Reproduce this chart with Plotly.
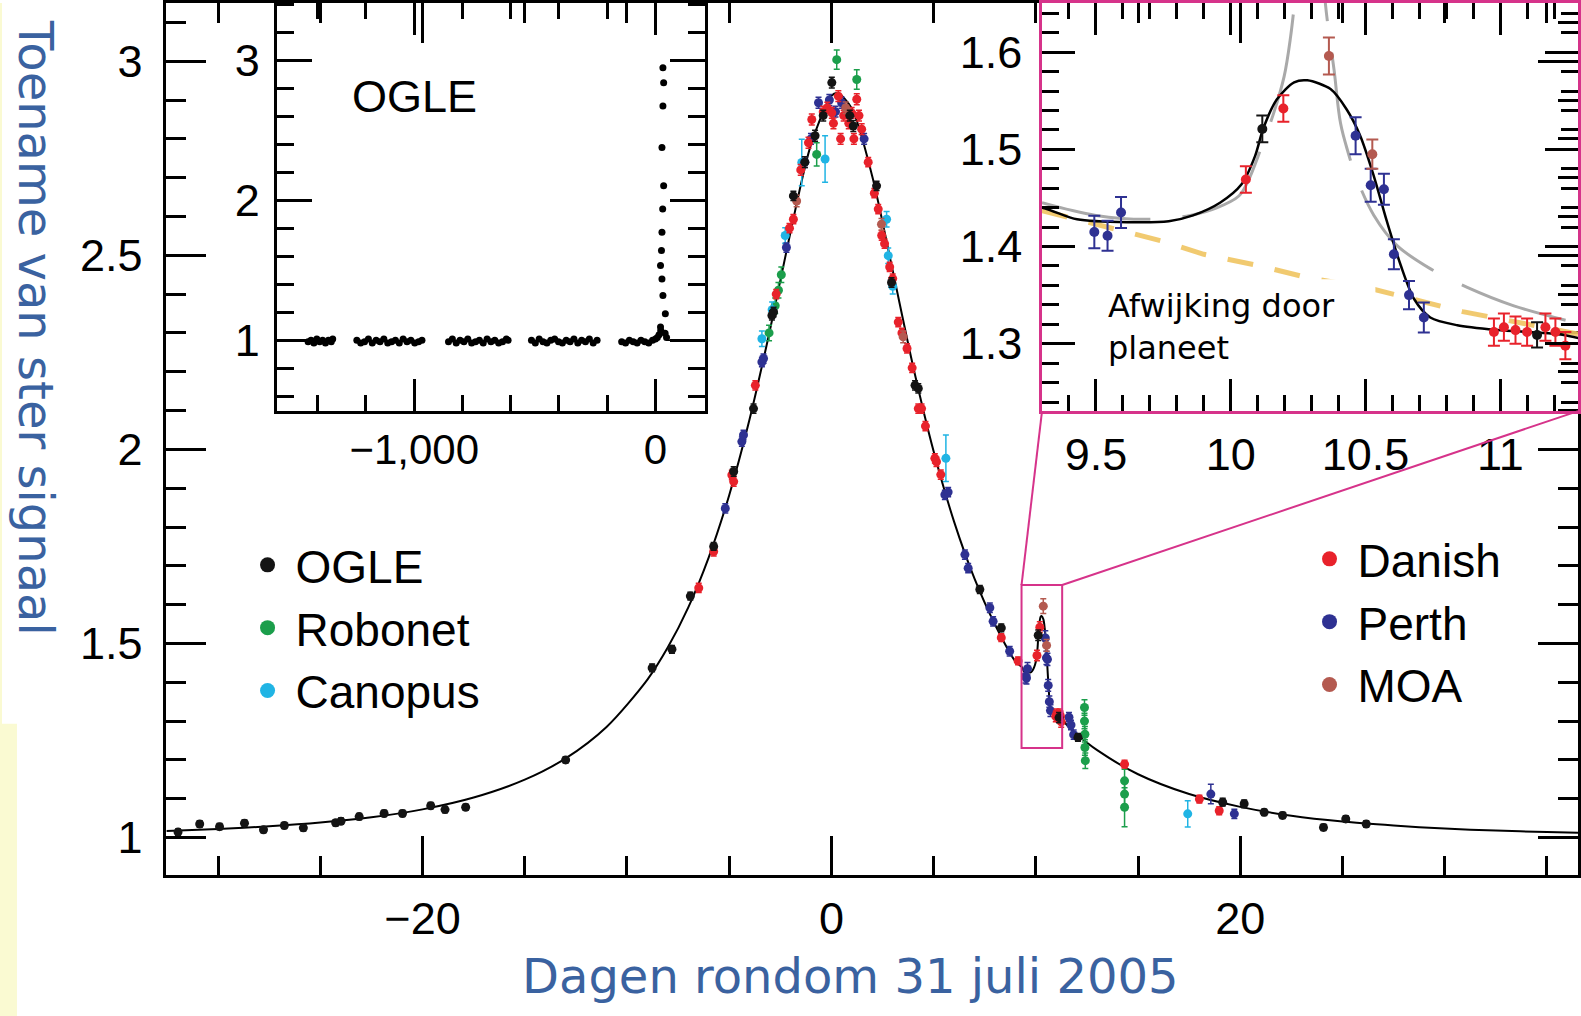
import plotly.graph_objects as go

W, H = 1581, 1016

# ---------------- fitted light curve (days, magnification) ----------------
MODEL_T = [-32.53, -30.0, -27.5, -25.0, -22.5, -20.0, -17.5, -15.0, -13.0, -11.0,
           -9.0, -8.0, -7.0, -6.0, -5.0, -4.0, -3.0, -2.0, -1.0, 0.0, 0.3, 1.0,
           2.0, 3.0, 4.0, 5.0, 6.0, 7.0, 8.0, 9.0, 9.3, 9.43, 9.62, 9.77, 9.86,
           9.96, 10.04, 10.09, 10.12, 10.17, 10.235, 10.284, 10.37, 10.43, 10.48,
           10.53, 10.58, 10.63, 10.68, 10.74, 10.84, 10.99, 11.235, 11.5, 12.0,
           13.0, 15.0, 17.5, 20.0, 22.5, 25.0, 27.5, 30.0, 32.5, 35.0, 36.52]
MODEL_A = [1.017, 1.022, 1.029, 1.0385, 1.052, 1.0725, 1.103, 1.149, 1.204, 1.285,
           1.407, 1.490, 1.593, 1.722, 1.882, 2.078, 2.309, 2.560, 2.785, 2.911, 2.918, 2.878,
           2.703, 2.460, 2.213, 1.995, 1.814, 1.667, 1.549, 1.454, 1.440, 1.428, 1.425, 1.426, 1.432,
           1.445, 1.464, 1.493, 1.521, 1.551, 1.569, 1.571, 1.562, 1.541, 1.514,
           1.473, 1.425, 1.381, 1.346, 1.327, 1.319, 1.314, 1.309, 1.291, 1.266,
           1.225, 1.163, 1.112, 1.079, 1.056, 1.041, 1.031, 1.023, 1.018, 1.014, 1.012]

# ---------------- photometry per telescope ----------------
OGLE_T = [-31.96, -30.90, -29.93, -28.71, -27.78, -26.76, -25.83, -24.25, -23.99, -23.10,
          -21.88, -20.98, -19.60, -18.90, -17.89, -13.00, -8.77, -7.80, -6.90, -5.76,
          -4.78, -3.81, -2.91, -2.83, -1.86, -1.30, -0.80, -0.40, 0.02, 0.90,
          1.07, 2.21, 2.94, 4.09, 4.25, 7.26, 8.31, 10.117, 11.136, 12.06,
          19.14, 20.19, 21.17, 22.07, 24.07, 25.16, 26.16]
OGLE_A = [1.014, 1.035, 1.028, 1.037, 1.020, 1.031, 1.025, 1.038, 1.042, 1.054,
          1.062, 1.062, 1.082, 1.072, 1.078, 1.200, 1.437, 1.485, 1.622, 1.750,
          1.943, 2.105, 2.345, 2.354, 2.653, 2.740, 2.808, 2.860, 2.945, 2.860,
          2.833, 2.679, 2.430, 2.165, 2.157, 1.639, 1.540, 1.521, 1.309, 1.258,
          1.091, 1.087, 1.065, 1.057, 1.026, 1.048, 1.035]
OGLE_E = [0.008, 0.008, 0.008, 0.008, 0.008, 0.008, 0.008, 0.008, 0.008, 0.008,
          0.008, 0.008, 0.008, 0.008, 0.008, 0.008, 0.010, 0.010, 0.010, 0.010,
          0.012, 0.012, 0.012, 0.012, 0.012, 0.014, 0.014, 0.014, 0.014, 0.014,
          0.014, 0.012, 0.012, 0.012, 0.012, 0.010, 0.010, 0.0137, 0.013, 0.010,
          0.010, 0.010, 0.008, 0.008, 0.008, 0.008, 0.008]

ROBO_T = [-3.05, -2.75, -2.59, -2.45, -0.72, 0.26, 1.24,
          12.38, 12.38, 12.40, 12.40, 12.42, 14.34, 14.34, 14.34]
ROBO_A = [2.300, 2.370, 2.410, 2.450, 2.760, 3.004, 2.953,
          1.335, 1.300, 1.266, 1.232, 1.198, 1.146, 1.112, 1.078]
ROBO_E = [0.020, 0.020, 0.020, 0.020, 0.030, 0.025, 0.025,
          0.020, 0.020, 0.020, 0.020, 0.020, 0.030, 0.030, 0.050]

CANO_T = [-3.40, -2.90, -2.26, -1.45, -0.31, 2.70, 2.78, 3.00, 5.60, 17.43]
CANO_A = [2.285, 2.360, 2.551, 2.739, 2.748, 2.593, 2.499, 2.420, 1.977, 1.061]
CANO_E = [0.020, 0.020, 0.020, 0.060, 0.060, 0.020, 0.020, 0.020, 0.060, 0.034]

DAN_T = [-6.49, -5.76, -4.87, -4.78, -3.72, -2.70, -2.05, -1.86, -1.50, -1.12,
         -0.96, -0.40, -0.20, 0.02, 0.10, 0.34, 0.45, 0.60, 0.85, 0.99,
         1.10, 1.24, 1.35, 1.48, 1.80, 2.10, 2.29, 2.46, 2.60, 2.85,
         3.00, 3.27, 3.45, 3.70, 3.95, 4.25, 4.41, 4.60, 5.06, 5.14,
         5.35, 8.31, 9.13, 10.056, 10.195, 10.976, 11.013, 11.056, 11.099, 11.167,
         11.204, 11.241, 14.34, 18.00, 18.97]
DAN_A = [1.643, 1.737, 1.934, 1.917, 2.165, 2.400, 2.570, 2.593, 2.720, 2.790,
         2.850, 2.870, 2.880, 2.867, 2.840, 2.910, 2.800, 2.860, 2.840, 2.867,
         2.800, 2.902, 2.860, 2.825, 2.740, 2.660, 2.619, 2.551, 2.530, 2.470,
         2.440, 2.328, 2.300, 2.260, 2.210, 2.105, 2.105, 2.060, 1.977, 1.968,
         1.935, 1.515, 1.455, 1.469, 1.542, 1.312, 1.317, 1.314, 1.312, 1.317,
         1.312, 1.298, 1.189, 1.099, 1.069]
DAN_E = [0.012, 0.012, 0.012, 0.012, 0.012, 0.012, 0.012, 0.012, 0.014, 0.014,
         0.014, 0.014, 0.014, 0.014, 0.014, 0.014, 0.014, 0.014, 0.014, 0.014,
         0.014, 0.014, 0.014, 0.014, 0.012, 0.012, 0.012, 0.012, 0.012, 0.012,
         0.012, 0.012, 0.012, 0.012, 0.012, 0.012, 0.012, 0.012, 0.012, 0.012,
         0.012, 0.010, 0.010, 0.0137, 0.0137, 0.014, 0.014, 0.014, 0.014, 0.014,
         0.014, 0.014, 0.010, 0.010, 0.010]

PER_T = [-5.19, -4.38, -4.30, -3.40, -3.32, -2.20, -1.30, -1.00, -0.63, -0.10,
         0.20, 0.50, 1.60, 5.55, 5.71, 6.53, 6.69, 7.75, 7.91, 8.72,
         9.494, 9.543, 9.593, 10.463, 10.519, 10.568, 10.605, 10.661, 10.716, 11.62,
         11.72, 11.85, 18.56, 19.71]
PER_A = [1.848, 2.020, 2.037, 2.225, 2.234, 2.520, 2.740, 2.800, 2.893, 2.900,
         2.870, 2.893, 2.800, 1.883, 1.890, 1.729, 1.694, 1.592, 1.557, 1.480,
         1.415, 1.411, 1.435, 1.514, 1.463, 1.459, 1.392, 1.350, 1.327, 1.310,
         1.290, 1.265, 1.112, 1.061]
PER_E = [0.012, 0.012, 0.012, 0.012, 0.012, 0.012, 0.014, 0.014, 0.014, 0.014,
         0.014, 0.014, 0.014, 0.012, 0.012, 0.012, 0.012, 0.012, 0.012, 0.012,
         0.0167, 0.0154, 0.016, 0.019, 0.017, 0.016, 0.0154, 0.0145, 0.0154, 0.012,
         0.012, 0.012, 0.025, 0.012]

MOA_T = [-1.70, 0.70, 2.45, 3.51, 10.364, 10.525]
MOA_A = [2.640, 2.880, 2.580, 2.290, 1.596, 1.495]
MOA_E = [0.015, 0.015, 0.015, 0.015, 0.019, 0.015]

# ---------------- OGLE seasons (inset, days) ----------------
SEASON_T = [-1440, -1428, -1416, -1404, -1392, -1380, -1368, -1356, -1344, -1338,
            -1238, -1222, -1206, -1190, -1174, -1158, -1142, -1126, -1110, -1094,
            -1078, -1062, -1046, -1030, -1014, -998, -982, -968,
            -858, -842, -826, -810, -794, -778, -762, -746, -730, -714,
            -698, -682, -666, -650, -634, -618, -611,
            -514, -498, -482, -466, -450, -434, -418, -402, -386, -370,
            -354, -338, -322, -306, -290, -274, -258, -242,
            -140, -124, -108, -92, -76, -60, -44, -28, -12, 0,
            8, 15, 22, 40, 46,
            31, 34, 31, 27, 34, 30, 27, 25, 21, 27, 31, 41, 21]
SEASON_A = [0.99, 1.00, 0.98, 1.01, 0.99, 1.00, 0.98, 1.00, 0.99, 1.01,
            1.00, 0.98, 0.99, 1.01, 0.98, 1.00, 0.99, 1.01, 0.98, 0.99,
            1.00, 0.98, 1.01, 0.99, 1.00, 0.98, 0.99, 1.00,
            0.99, 1.01, 0.98, 1.00, 0.99, 1.01, 0.98, 0.99, 1.00, 0.98,
            1.01, 0.99, 1.00, 0.98, 0.99, 1.01, 1.00,
            1.00, 0.98, 1.01, 0.99, 0.98, 1.00, 1.01, 0.99, 0.98, 1.00,
            0.99, 1.01, 0.98, 1.00, 0.99, 1.01, 0.98, 1.00,
            0.99, 0.98, 1.00, 0.99, 0.98, 1.00, 0.99, 0.98, 1.00, 1.01,
            1.02, 1.04, 1.07, 1.05, 1.02,
            2.945, 2.838, 2.673, 2.376, 2.103, 1.937, 1.771, 1.641, 1.534, 1.438, 1.320, 1.189, 1.095]
SEASON_LINE_T = [46, 204]
SEASON_LINE_A = [1.0, 1.0]

# ---------------- anomaly window: comparison models ----------------
SINGLE_T = [9.3, 9.74, 9.90, 10.11, 10.284, 10.53, 10.86, 11.288]
SINGLE_A = [1.437, 1.406, 1.392, 1.380, 1.368, 1.356, 1.333, 1.310]
ALT_T = [9.3, 9.5, 9.7, 9.85, 9.95, 10.03, 10.062, 10.111, 10.16, 10.198, 10.222, 10.24,
         10.27, 10.30, 10.33, 10.351, 10.383, 10.407, 10.435, 10.463, 10.531, 10.617,
         10.741, 10.877, 11.05, 11.288]
ALT_A = [1.445, 1.432, 1.428, 1.432, 1.440, 1.452, 1.466, 1.500, 1.538, 1.575, 1.616, 1.660,
         1.74, 1.78, 1.74, 1.650, 1.582, 1.527, 1.497, 1.473, 1.432, 1.401,
         1.377, 1.358, 1.339, 1.321]

# ---------------- axes geometry ----------------
MAIN_XD, MAIN_YD = [0.10544, 1.0], [0.13878, 1.0]
MAIN_XR, MAIN_YR = [-32.53, 36.52], [0.9024, 3.150]
IN1_XD, IN1_YD = [0.17584, 0.44655], [0.59744, 1.0]
IN1_XR, IN1_YR = [-1567, 204], [0.4968, 3.4078]
IN2_XD, IN2_YD = [0.66034, 1.0], [0.59715, 1.0]
IN2_XR, IN2_YR = [9.3, 11.2878], [1.23067, 1.65056]

MAIN_XTICKS, MAIN_XTEXT = [-20, 0, 20], ["\u221220", "0", "20"]
MAIN_YTICKS, MAIN_YTEXT = [1, 1.5, 2, 2.5, 3], ["1", "1.5", "2", "2.5", "3"]
IN1_XTICKS, IN1_XTEXT = [-1000, 0], ["\u22121,000", "0"]
IN1_YTICKS, IN1_YTEXT = [1, 2, 3], ["1", "2", "3"]
IN2_XTICKS, IN2_XTEXT = [9.5, 10, 10.5, 11], ["9.5", "10", "10.5", "11"]
IN2_YTICKS, IN2_YTEXT = [1.3, 1.4, 1.5, 1.6], ["1.3", "1.4", "1.5", "1.6"]

PINK = "#d6338a"
TITLE_BLUE = "#3a62a0"


def tickfont(size):
    return dict(family="Liberation Sans", size=size, color="black")


COLORS = {
    "OGLE": "#141414", "Robonet": "#1b9e4b", "Canopus": "#20b4e4",
    "Danish": "#e8222b", "Perth": "#2e3192", "MOA": "#b45a50",
}

fig = go.Figure()


def add_series(t, a, e, color, xa, ya, size, cap, thick):
    fig.add_trace(go.Scatter(
        x=t, y=a, mode="markers", xaxis=xa, yaxis=ya, showlegend=False,
        marker=dict(color=color, size=size, line=dict(width=0)),
        error_y=dict(type="data", array=e, color=color, thickness=thick, width=cap),
    ))


SERIES = [
    (ROBO_T, ROBO_A, ROBO_E, "Robonet"),
    (CANO_T, CANO_A, CANO_E, "Canopus"),
    (PER_T, PER_A, PER_E, "Perth"),
    (DAN_T, DAN_A, DAN_E, "Danish"),
    (MOA_T, MOA_A, MOA_E, "MOA"),
    (OGLE_T, OGLE_A, OGLE_E, "OGLE"),
]

# main panel
fig.add_trace(go.Scatter(x=MODEL_T, y=MODEL_A, mode="lines", xaxis="x", yaxis="y",
                         line=dict(color="black", width=2, shape="spline", smoothing=0.8),
                         showlegend=False))
for t, a, e, name in SERIES:
    add_series(t, a, e, COLORS[name], "x", "y", 9, 3, 1.5)

# inset 1: OGLE seasons
fig.add_trace(go.Scatter(x=SEASON_LINE_T, y=SEASON_LINE_A, mode="lines", xaxis="x2", yaxis="y2",
                         line=dict(color="black", width=1.5), showlegend=False))
fig.add_trace(go.Scatter(x=SEASON_T, y=SEASON_A, mode="markers", xaxis="x2", yaxis="y2",
                         marker=dict(color="black", size=7), showlegend=False))

# inset 2: anomaly window
fig.add_trace(go.Scatter(x=SINGLE_T, y=SINGLE_A, mode="lines", xaxis="x3", yaxis="y3",
                         line=dict(color="rgba(240,196,96,0.9)", width=5, dash="26px,22px"),
                         showlegend=False))
fig.add_trace(go.Scatter(x=ALT_T, y=ALT_A, mode="lines", xaxis="x3", yaxis="y3",
                         line=dict(color="#a9a9a9", width=3, dash="110px,32px", shape="spline"),
                         showlegend=False))
fig.add_trace(go.Scatter(x=MODEL_T, y=MODEL_A, mode="lines", xaxis="x3", yaxis="y3",
                         line=dict(color="black", width=2.5, shape="spline", smoothing=0.8),
                         showlegend=False))
for t, a, e, name in SERIES:
    add_series(t, a, e, COLORS[name], "x3", "y3", 10, 6, 2)

# legend keys
for name, lg in [("OGLE", "legend"), ("Robonet", "legend"), ("Canopus", "legend"),
                 ("Danish", "legend2"), ("Perth", "legend2"), ("MOA", "legend2")]:
    fig.add_trace(go.Scatter(x=[None], y=[None], mode="markers", name=name, legend=lg,
                             legendgroup=name, showlegend=True,
                             marker=dict(color=COLORS[name], size=15)))


def axis(domain, rng, tickvals, ticktext, ticklen, minor_dtick, minor_len,
         linecolor="black", standoff=0, anchor=None, fsize=45):
    d = dict(domain=domain, range=rng, showline=True, linecolor=linecolor, linewidth=2.5,
             mirror="ticks", ticks="inside", ticklen=ticklen, tickwidth=2.5,
             tickcolor="black", tickmode="array", tickvals=tickvals, ticktext=ticktext,
             tickfont=tickfont(fsize), showgrid=False, zeroline=False, fixedrange=True,
             ticklabelstandoff=standoff,
             minor=dict(ticks="inside", ticklen=minor_len, tickwidth=2.5, tickcolor="black",
                        tickmode="linear", tick0=0, dtick=minor_dtick, showgrid=False))
    if anchor:
        d["anchor"] = anchor
    return d


LEGEND_FONT = dict(family="Liberation Sans", size=46, color="black")

fig.update_layout(
    width=W, height=H, margin=dict(l=0, r=0, t=0, b=0),
    paper_bgcolor="white", plot_bgcolor="rgba(0,0,0,0)",
    xaxis=axis(MAIN_XD, MAIN_XR, MAIN_XTICKS, MAIN_XTEXT, 40, 5, 20, standoff=2, anchor="y"),
    yaxis=axis(MAIN_YD, MAIN_YR, MAIN_YTICKS, MAIN_YTEXT, 40, 0.1, 20, standoff=12, anchor="x"),
    xaxis2=axis(IN1_XD, IN1_XR, IN1_XTICKS, IN1_XTEXT, 32, 200, 16, standoff=0, anchor="y2",
                fsize=42),
    yaxis2=axis(IN1_YD, IN1_YR, IN1_YTICKS, IN1_YTEXT, 35, 0.2, 17, standoff=6, anchor="x2"),
    xaxis3=axis(IN2_XD, IN2_XR, IN2_XTICKS, IN2_XTEXT, 32, 0.1, 16, linecolor=PINK,
                standoff=2, anchor="y3"),
    yaxis3=axis(IN2_YD, IN2_YR, IN2_YTICKS, IN2_YTEXT, 33, 0.02, 17, linecolor=PINK,
                standoff=8, anchor="x3"),
    legend=dict(x=240 / W, y=1 - 527 / H, xanchor="left", yanchor="top",
                bgcolor="rgba(0,0,0,0)", borderwidth=0, itemwidth=46, tracegroupgap=0,
                font=LEGEND_FONT),
    legend2=dict(x=1304 / W, y=1 - 521 / H, xanchor="left", yanchor="top",
                 bgcolor="rgba(0,0,0,0)", borderwidth=0, itemwidth=46, tracegroupgap=0,
                 font=LEGEND_FONT),
)


def main_to_paper(t, a):
    px = MAIN_XD[0] + (t - MAIN_XR[0]) / (MAIN_XR[1] - MAIN_XR[0]) * (MAIN_XD[1] - MAIN_XD[0])
    py = MAIN_YD[0] + (a - MAIN_YR[0]) / (MAIN_YR[1] - MAIN_YR[0]) * (MAIN_YD[1] - MAIN_YD[0])
    return px, py


shapes = [
    # light yellow strip at the far left
    dict(type="rect", xref="paper", yref="paper", x0=0, x1=17 / W, y0=0, y1=1 - 723 / H,
         fillcolor="#fafad2", line=dict(width=0), layer="below"),
    dict(type="rect", xref="paper", yref="paper", x0=0, x1=2 / W, y0=0, y1=1,
         fillcolor="#fafad2", line=dict(width=0), layer="below"),
    # window on the anomaly in the main panel
    dict(type="rect", xref="x", yref="y", x0=IN2_XR[0], x1=IN2_XR[1], y0=IN2_YR[0], y1=IN2_YR[1],
         line=dict(color=PINK, width=2), layer="above"),
]
tl = main_to_paper(IN2_XR[0], IN2_YR[1])
tr = main_to_paper(IN2_XR[1], IN2_YR[1])
shapes.append(dict(type="line", xref="paper", yref="paper", x0=tl[0], y0=tl[1],
                   x1=IN2_XD[0], y1=IN2_YD[0], line=dict(color=PINK, width=2), layer="above"))
shapes.append(dict(type="line", xref="paper", yref="paper", x0=tr[0], y0=tr[1],
                   x1=IN2_XD[1], y1=IN2_YD[0], line=dict(color=PINK, width=2), layer="above"))
# white label box inside the anomaly window
shapes.append(dict(type="rect", xref="paper", yref="paper", x0=1091 / W, x1=1378 / W,
                   y0=1 - 373 / H, y1=1 - 277 / H, fillcolor="white", line=dict(width=0),
                   layer="above"))
fig.update_layout(shapes=shapes)

fig.update_layout(annotations=[
    dict(text="Toename van ster signaal", xref="paper", yref="paper", x=36 / W, y=1 - 326 / H,
         xanchor="center", yanchor="middle", textangle=90, showarrow=False,
         font=dict(family="DejaVu Sans", size=48, color=TITLE_BLUE)),
    dict(text="Dagen rondom 31 juli 2005", xref="paper", yref="paper", x=852 / W, y=1 - 976 / H,
         xanchor="center", yanchor="middle", showarrow=False,
         font=dict(family="DejaVu Sans", size=48, color=TITLE_BLUE)),
    dict(text="OGLE", xref="paper", yref="paper", x=351 / W, y=1 - 94 / H,
         xanchor="left", yanchor="middle", showarrow=False,
         font=dict(family="Liberation Sans", size=45, color="black")),
    dict(text="Afwijking door<br>planeet", xref="paper", yref="paper", x=1108 / W, y=1 - 325 / H,
         xanchor="left", yanchor="middle", align="left", showarrow=False,
         font=dict(family="DejaVu Sans", size=32, color="black")),
])

fig.write_html("out.html")
